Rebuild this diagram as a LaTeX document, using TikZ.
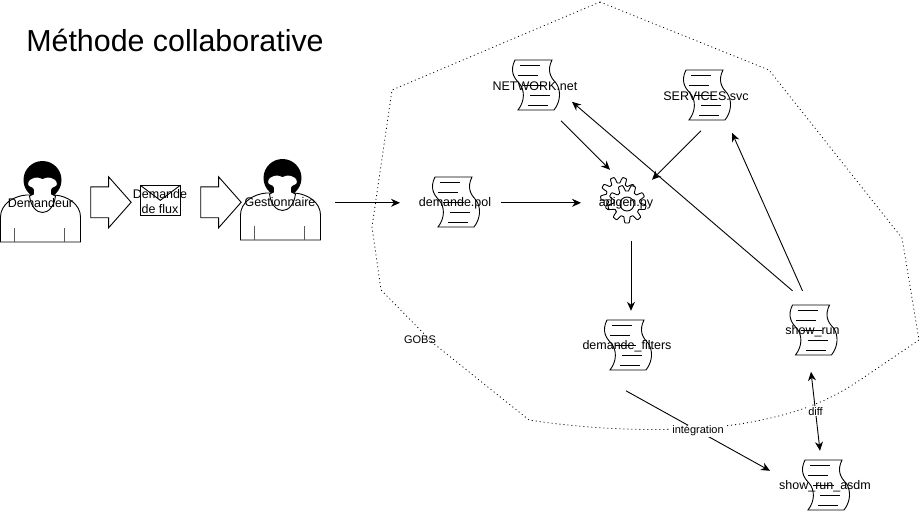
\documentclass[tikz,border=0pt]{standalone}
\usepackage{fontspec}
\setmainfont{Liberation Sans}
\usepackage{tikz}
\usetikzlibrary{positioning,arrows.meta,shapes.arrows}

\tikzset{
    lbl/.style={font=\fontsize{12.5}{15}\selectfont, inner sep=0pt, align=center, yshift=-0.8pt},
    edgelbl/.style={font=\fontsize{11}{13}\selectfont, fill=white, inner sep=1pt},
    bigarrow/.style={single arrow, draw, fill=white, anchor=tail, inner xsep=0pt, inner ysep=15pt, minimum width=50pt, minimum height=40.4pt, single arrow head extend=10pt, single arrow tip angle=97},
    scrolldoc/.pic={
        \draw [-, fill=white] (-20,-25) -- (17,-25) .. controls (12,-15) and (15,-8) .. (21,-2) .. controls (26,5) and (26,16) .. (19,25) -- (-17,25) .. controls (-10,16) and (-10,5) .. (-16,-2) .. controls (-22,-8) and (-25,-15) .. (-20,-25) -- cycle;
        \draw [-] (-15,-20) -- (5,-20);
        \draw [-] (-17,-10) -- (3,-10);
        \draw [-] (-12,0) -- (9,0);
        \draw [-] (-5,10) -- (15,10);
        \draw [-] (-7,20) -- (13,20);
    },
    person/.pic={
        \draw [-, fill=white] (-40,40) -- (-40,15) .. controls (-40,3) and (-28,-6) .. (-14,-7) -- (14,-7) .. controls (28,-6) and (40,3) .. (40,15) -- (40,40) -- cycle;
        \draw [-, gray!70!black] (-26.5,26) -- (-26.5,40);
        \draw [-, gray!70!black] (23.5,26) -- (23.5,40);
        \fill (2,-22) circle (19);
        \draw [-, fill=white] (2,-23.5) .. controls (-2,-26) and (-12,-26) .. (-13,-18) .. controls (-13,-14) and (-7,-15) .. (-7,-12) -- (-7,-8) -- (-11,-6) .. controls (-8,16) and (12,16) .. (15,-6) -- (11,-8) -- (11,-12) .. controls (11,-15) and (17,-14) .. (17,-18) .. controls (16,-26) and (6,-26) .. (2,-23.5) -- cycle;
    },
    gearwheel/.pic={
        \draw [-, fill=white] plot [domain=0:360, samples=145, variable=\t] ({cos(\t)*(#1+3*max(-1,min(1,2*sin(9*\t))))}, {sin(\t)*(#1+3*max(-1,min(1,2*sin(9*\t))))}) -- cycle;
    }
}

\begin{document}
\begin{tikzpicture}[->, >={Stealth[length=9pt,width=8pt]}, x=1pt, y=-1pt, line width=0.9pt]

        \useasboundingbox (0,0) rectangle (922,511);

        % zone GOBS
        \draw [-, line width=0.8pt, dash pattern=on 1pt off 3pt] (600,2) -- (769,70) -- (902,238) -- (919,340) -- (860,380) .. controls (830,400) and (800,414) .. (740,424) .. controls (700,430) and (620,434) .. (529,420) -- (433,343) -- (381,290) -- (372,227) -- (392,90) -- cycle;
        \node (gobs) [font=\fontsize{11}{13}\selectfont] at (420,340) {GOBS};

        \node (titre) [font=\fontsize{30.4}{36}\selectfont] at (175,40.5) {Méthode collaborative};

        % acteurs
        \pic at (40.5,202) {person};
        \node (dem) [lbl] at (40.5,202) {Demandeur};
        \pic at (280.5,200) {person};
        \node (gest) [lbl] at (280,201) {Gestionnaire};

        \node (fleche1) [bigarrow] at (90.3,202.3) {};
        \node (fleche2) [bigarrow] at (200.3,202.3) {};

        % enveloppe
        \draw [-, fill=white] (140.3,185.3) rectangle (180.3,215.3);
        \draw [-] (140.3,185.3) -- (160.3,200.3) -- (180.3,185.3);
        \node (flux) [lbl] at (160,201) {Demande\\de flux};

        % fichiers
        \pic at (535,85) {scrolldoc};
        \node (net) [lbl] at (535,85) {NETWORK.net};
        \pic at (706,95) {scrolldoc};
        \node (svc) [lbl] at (706,95) {SERVICES.svc};
        \pic at (455,202) {scrolldoc};
        \node (pol) [lbl] at (455,202) {demande.pol};
        \pic at (627,345) {scrolldoc};
        \node (filters) [lbl] at (627,345) {demande\_filters};
        \pic at (812.5,330) {scrolldoc};
        \node (show) [lbl] at (812.5,330) {show\_run};
        \pic at (825,485) {scrolldoc};
        \node (asdm) [lbl] at (825,485) {show\_run\_asdm};

        % engrenages
        \pic at (618.5,195) {gearwheel=15};
        \pic at (627,204) {gearwheel=16};
        \draw [-] (627,204) circle (7);
        \node (adigen) [lbl] at (626,202) {adigen.py};

        % liens
        \draw ([shift={(55,1)}]gest.center) -- ([shift={(-55,0)}]pol.center);
        \draw ([shift={(46,0)}]pol.center) -- ([shift={(-45,0)}]adigen.center);
        \draw ([shift={(26,35)}]net.center) -- ([shift={(-16,-33)}]adigen.center);
        \draw ([shift={(-5,35)}]svc.center) -- ([shift={(26,-23)}]adigen.center);
        \draw ([shift={(5,38)}]adigen.center) -- ([shift={(4,-35)}]filters.center);
        \draw ([shift={(-20,-40)}]show.center) -- ([shift={(37,16)}]net.center);
        \draw ([shift={(-10,-40)}]show.center) -- ([shift={(26,37)}]svc.center);
        \draw ([shift={(-1,45)}]filters.center) -- node (integ) [edgelbl, midway] {intégration} ([shift={(-55,-15)}]asdm.center);
        \draw [<->] ([shift={(-1.5,41)}]show.center) -- node (diff) [edgelbl, midway] {diff} ([shift={(-5,-35)}]asdm.center);

\end{tikzpicture}
\end{document}
